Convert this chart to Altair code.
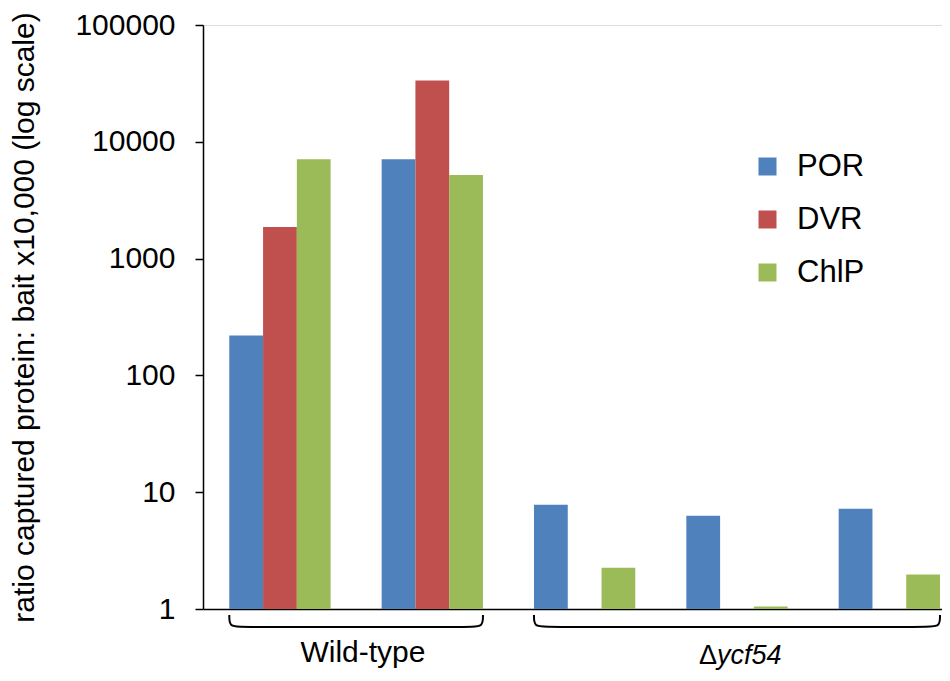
import altair as alt
import pandas as pd

# ---- data ----
groups = ["Wild-type 1", "Wild-type 2", "Δycf54 1", "Δycf54 2", "Δycf54 3"]
series = ["POR", "DVR", "ChlP"]
por = [220, 7100, 7.8, 6.3, 7.2]
dvr = [1860, 33500, None, None, None]
chlp = [7100, 5200, 2.25, 1.05, 1.97]
colors = ["#4F81BD", "#C0504D", "#9BBB59"]
y_ticks = [1, 10, 100, 1000, 10000, 100000]

bracket_names = ["Wild-type", "Δycf54"]
bracket_first = [0, 2]
bracket_last = [1, 4]
label_x = [0.545, 3.0]
label_y = [3.92, 4.08]

rows = []
for s, vals in zip(series, [por, dvr, chlp]):
    for g, v in zip(groups, vals):
        if v is not None:
            rows.append({"group": g, "series": s, "value": v})
bars_df = pd.DataFrame(rows)

# ---- layout ----
W, H = 739, 584
P_IN, P_OUT, ALIGN = 0.335, 0.0929, 0.929
step = W / (len(groups) - P_IN + 2 * P_OUT)
left_outer = ALIGN * 2 * P_OUT * step
half_band = (1 - P_IN) / 2
x0_units = -(left_outer / step + half_band)
x1_units = x0_units + W / step

FONT = "Liberation Sans"

# bracket outlines (in group units)
r = 0.085
brows = []
for name, a, b in zip(bracket_names, bracket_first, bracket_last):
    xa, xb = a - half_band, b + half_band
    pts = [(xa, 0), (xa, 1), (xa + r, 1), (xb - r, 1), (xb, 1), (xb, 0)]
    for i, (px, py) in enumerate(pts):
        brows.append({"bracket": name, "order": i, "x": px, "y": py})
br_df = pd.DataFrame(brows)

up_df = pd.DataFrame({"x": [label_x[0]], "y": [label_y[0]], "t": ["Wild-type"]})
delta_df = pd.DataFrame({"x": [label_x[1]], "y": [label_y[1]], "t": ["Δ"]})
ital_df = pd.DataFrame({"x": [label_x[1]], "y": [label_y[1]], "t": ["ycf54"]})

bars = alt.Chart(bars_df).mark_bar().encode(
    x=alt.X("group:N", sort=groups,
            scale=alt.Scale(paddingInner=P_IN, paddingOuter=P_OUT, align=ALIGN),
            axis=alt.Axis(labels=False, ticks=False, title=None, grid=False,
                          domainColor="black", domainWidth=1.5)),
    xOffset=alt.XOffset("series:N", sort=series,
                        scale=alt.Scale(paddingInner=0, paddingOuter=0)),
    y=alt.Y("value:Q", stack=None,
            scale=alt.Scale(type="log", domain=[1, 100000], nice=False),
            axis=alt.Axis(values=y_ticks, format="d", grid=False,
                          title="ratio captured protein: bait x10,000 (log scale)",
                          titleFont=FONT, titleFontSize=30, titleFontWeight="normal",
                          titleColor="black", titlePadding=35,
                          labelFont=FONT, labelFontSize=30, labelColor="black",
                          labelPadding=20, tickSize=8, tickColor="black", tickWidth=1.5,
                          domainColor="black", domainWidth=1.5)),
    y2=alt.datum(1),
    color=alt.Color("series:N", sort=series,
                    scale=alt.Scale(domain=series, range=colors),
                    legend=alt.Legend(title=None, orient="none", legendX=549, legendY=126,
                                      symbolType="square", symbolSize=324,
                                      symbolStrokeWidth=0, labelFont=FONT,
                                      labelFontSize=31, labelColor="black",
                                      rowPadding=21, labelOffset=14, padding=0,
                                      labelLimit=300)),
)

xq = alt.X("x:Q", scale=alt.Scale(domain=[x0_units, x1_units], nice=False, zero=False), axis=None)
yq = alt.Y("y:Q", scale=alt.Scale(domain=[0, 1], range=[590, 602], nice=False, zero=False), axis=None)

brackets = alt.Chart(br_df).mark_line(color="black", strokeWidth=2, interpolate="basis").encode(
    x=xq, y=yq, detail="bracket:N", order="order:Q"
)
up_text = alt.Chart(up_df).mark_text(font=FONT, fontSize=30, color="black",
                                     align="center", baseline="alphabetic").encode(
    x=xq, y=yq, text="t:N")
delta_text = alt.Chart(delta_df).mark_text(font=FONT, fontSize=27, color="black",
                                           align="right", baseline="alphabetic", dx=-20).encode(
    x=xq, y=yq, text="t:N")
ital_text = alt.Chart(ital_df).mark_text(font=FONT, fontSize=27, color="black", fontStyle="italic",
                                         align="left", baseline="alphabetic", dx=-20).encode(
    x=xq, y=yq, text="t:N")

annot = alt.layer(brackets, up_text, delta_text, ital_text)

chart = alt.layer(bars, annot).resolve_scale(
    x="independent", y="independent", xOffset="independent"
).properties(
    width=W, height=H,
    autosize=alt.AutoSizeParams(type="none"),
    padding={"left": 195, "top": 17, "right": 0, "bottom": 61},
).configure_view(stroke=None).configure(background="white")

chart.save("out.html", embed_options={"renderer": "svg", "actions": False})
